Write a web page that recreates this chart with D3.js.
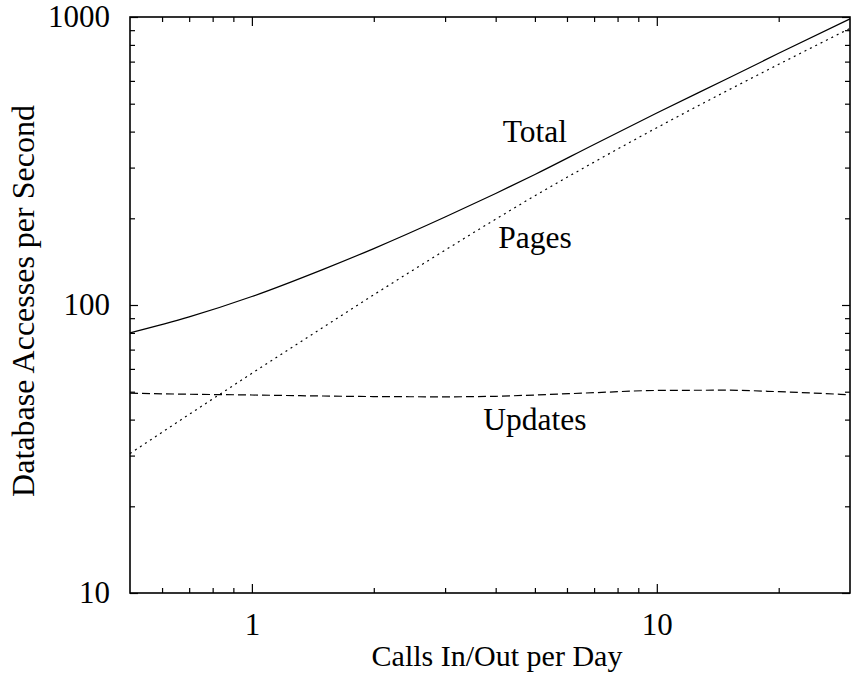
<!DOCTYPE html>
<html>
<head>
<meta charset="utf-8">
<script src="https://cdn.jsdelivr.net/npm/d3@7/dist/d3.min.js"></script>
<style>
  html, body { margin: 0; padding: 0; background: #fff; }
  svg { display: block; }
  text { font-family: "Liberation Serif", "Times New Roman", serif; fill: #000; }
</style>
</head>
<body>
<svg id="chart" width="851" height="682"></svg>
<script>
// Calls per day at which the model was evaluated
const calls = [0.5, 0.7, 1, 1.5, 2, 3, 4, 5, 7, 10, 15, 20, 30];

// Database accesses per second for each component
const total   = [80, 90.9, 107, 133, 157, 202, 244, 284, 361, 464, 613, 748, 985];
const pages   = [30.5, 41.7, 57.9, 83.7, 108.5, 155, 198.6, 239.5, 313.4, 412.6, 557, 685, 913];
const updates = [49.4, 49.0, 48.7, 48.3, 48.1, 48.0, 48.2, 48.7, 49.6, 50.5, 50.6, 50.0, 48.8];

// Axis ticks
const xMajor = [1, 10];
const xMinor = [0.6, 0.7, 0.8, 0.9, 2, 3, 4, 5, 6, 7, 8, 9, 20];
const yMajor = [10, 100, 1000];
const yMinor = [20, 30, 40, 50, 60, 70, 80, 90, 200, 300, 400, 500, 600, 700, 800, 900];

// Curve labels, placed at (calls, accesses) = text baseline centre
const labels = [
  { text: "Total",   x: 5, y: 368 },
  { text: "Pages",   x: 5, y: 158 },
  { text: "Updates", x: 5, y: 36.8 }
];

const margin = { top: 17, right: 1, bottom: 89, left: 130 };
const svg = d3.select("#chart");
const W = +svg.attr("width") - margin.left - margin.right;
const H = +svg.attr("height") - margin.top - margin.bottom;
const TICK_FS = 31, LABEL_FS = 31.5;

const x = d3.scaleLog().domain([0.5, 30]).range([0, W]);
const y = d3.scaleLog().domain([10, 1000]).range([H, 0]);

const g = svg.append("g").attr("transform", `translate(${margin.left},${margin.top})`);

function styleAxis(sel, showText) {
  sel.select(".domain").remove();
  sel.selectAll(".tick line").attr("stroke", "#000").attr("stroke-width", 1.2);
  sel.selectAll(".tick text")
    .attr("font-family", "'Liberation Serif', 'Times New Roman', serif")
    .attr("font-size", TICK_FS)
    .attr("fill", "#000")
    .style("display", showText ? null : "none");
}

// bottom / top
g.append("g").attr("transform", `translate(0,${H})`)
  .call(d3.axisBottom(x).tickValues(xMajor).tickSize(-9).tickPadding(20).tickFormat(d3.format("d")))
  .call(s => styleAxis(s, true));
g.append("g").attr("transform", `translate(0,${H})`)
  .call(d3.axisBottom(x).tickValues(xMinor).tickSize(-5).tickFormat(""))
  .call(s => styleAxis(s, false));
g.append("g")
  .call(d3.axisTop(x).tickValues(xMajor).tickSize(-9).tickFormat(""))
  .call(s => styleAxis(s, false));
g.append("g")
  .call(d3.axisTop(x).tickValues(xMinor).tickSize(-5).tickFormat(""))
  .call(s => styleAxis(s, false));

// left / right
g.append("g")
  .call(d3.axisLeft(y).tickValues(yMajor).tickSize(-8).tickPadding(20).tickFormat(d3.format("d")))
  .call(s => styleAxis(s, true));
g.append("g")
  .call(d3.axisLeft(y).tickValues(yMinor).tickSize(-5).tickFormat(""))
  .call(s => styleAxis(s, false));
g.append("g").attr("transform", `translate(${W},0)`)
  .call(d3.axisRight(y).tickValues(yMajor).tickSize(-8).tickFormat(""))
  .call(s => styleAxis(s, false));
g.append("g").attr("transform", `translate(${W},0)`)
  .call(d3.axisRight(y).tickValues(yMinor).tickSize(-5).tickFormat(""))
  .call(s => styleAxis(s, false));

// curves
const line = d3.line().curve(d3.curveMonotoneX);
function drawSeries(vals, dash) {
  g.append("path")
    .datum(calls.map((c, i) => [x(c), y(vals[i])]))
    .attr("d", line)
    .attr("fill", "none")
    .attr("stroke", "#000")
    .attr("stroke-width", 1.2)
    .attr("stroke-dasharray", dash);
}
drawSeries(total, null);
drawSeries(pages, "2,4");
drawSeries(updates, "8,4");

// curve labels
g.selectAll(".curve-label").data(labels).join("text")
  .attr("class", "curve-label")
  .attr("x", d => x(d.x))
  .attr("y", d => y(d.y))
  .attr("text-anchor", "middle")
  .attr("font-size", LABEL_FS)
  .text(d => d.text);

// frame
g.append("rect")
  .attr("width", W).attr("height", H)
  .attr("fill", "none").attr("stroke", "#000").attr("stroke-width", 1.6);

// axis titles
svg.append("text")
  .attr("x", margin.left + W / 2 + 7)
  .attr("y", 666)
  .attr("text-anchor", "middle")
  .attr("font-size", 30)
  .text("Calls In/Out per Day");

svg.append("text")
  .attr("transform", `translate(34,301) rotate(-90)`)
  .attr("text-anchor", "middle")
  .attr("font-size", 32)
  .text("Database Accesses per Second");
</script>
</body>
</html>
